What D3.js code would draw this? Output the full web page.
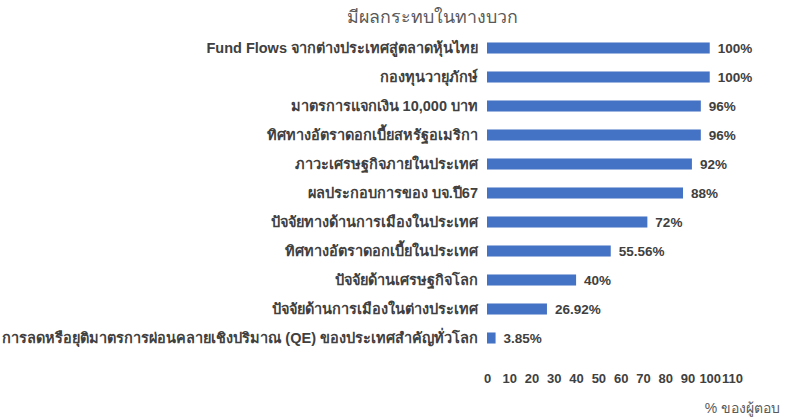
<!DOCTYPE html>
<html><head><meta charset="utf-8">
<script src="https://cdn.jsdelivr.net/npm/d3@7"></script>
<style>body{margin:0;background:#fff}svg{display:block}</style>
</head><body>
<svg id="c" width="788" height="419"></svg>
<script>
const categories = [
  "Fund Flows จากต่างประเทศสู่ตลาดหุ้นไทย",
  "กองทุนวายุภักษ์",
  "มาตรการแจกเงิน 10,000 บาท",
  "ทิศทางอัตราดอกเบี้ยสหรัฐอเมริกา",
  "ภาวะเศรษฐกิจภายในประเทศ",
  "ผลประกอบการของ บจ.ปี67",
  "ปัจจัยทางด้านการเมืองในประเทศ",
  "ทิศทางอัตราดอกเบี้ยในประเทศ",
  "ปัจจัยด้านเศรษฐกิจโลก",
  "ปัจจัยด้านการเมืองในต่างประเทศ",
  "การลดหรือยุติมาตรการผ่อนคลายเชิงปริมาณ (QE) ของประเทศสำคัญทั่วโลก"
];
const values = [100, 100, 96, 96, 92, 88, 72, 55.56, 40, 26.92, 3.85];
const valueLabels = ["100%", "100%", "96%", "96%", "92%", "88%", "72%", "55.56%", "40%", "26.92%", "3.85%"];
const xTicks = [0, 10, 20, 30, 40, 50, 60, 70, 80, 90, 100, 110];
const title = "มีผลกระทบในทางบวก";
const axisTitle = "% ของผู้ตอบ";

const svg = d3.select("#c");
const font = "Arial, 'Liberation Sans', 'Noto Sans', sans-serif";
const x = d3.scaleLinear().domain([0, 110]).range([487, 732]);
const y = d3.scaleBand().domain(categories).range([33.5, 352.5]).paddingInner(0.62).paddingOuter(0.31);

svg.append("text").attr("x", 432).attr("y", 23).attr("text-anchor", "middle")
  .attr("font-family", font).attr("font-size", 17.8).attr("fill", "#595959").text(title);

svg.selectAll("rect.bar").data(values).join("rect").attr("class", "bar")
  .attr("x", x(0)).attr("y", (d, i) => y(categories[i]))
  .attr("width", d => x(d) - x(0)).attr("height", y.bandwidth())
  .attr("fill", "#4472C4");

svg.selectAll("text.cat").data(categories).join("text").attr("class", "cat")
  .attr("x", 478).attr("y", d => y(d) + y.bandwidth() / 2).attr("dy", "0.35em")
  .attr("text-anchor", "end").attr("font-family", font).attr("font-size", 14.5)
  .attr("font-weight", "bold").attr("fill", "#404040").text(d => d);

svg.selectAll("text.val").data(values).join("text").attr("class", "val")
  .attr("x", d => x(d) + 8).attr("y", (d, i) => y(categories[i]) + y.bandwidth() / 2).attr("dy", "0.4em")
  .attr("font-family", font).attr("font-size", 13.5).attr("font-weight", "bold")
  .attr("fill", "#404040").text((d, i) => valueLabels[i]);

const ax = svg.append("g").attr("transform", "translate(0,374)")
  .call(d3.axisBottom(x).tickValues(xTicks).tickSize(0).tickPadding(0).tickFormat(d3.format("d")));
ax.select(".domain").remove();
ax.selectAll("text").attr("font-family", font).attr("font-size", 13).attr("font-weight", "bold").attr("fill", "#404040");

svg.append("text").attr("x", 780).attr("y", 413).attr("text-anchor", "end")
  .attr("font-family", font).attr("font-size", 14).attr("fill", "#595959").text(axisTitle);
</script>
</body></html>
